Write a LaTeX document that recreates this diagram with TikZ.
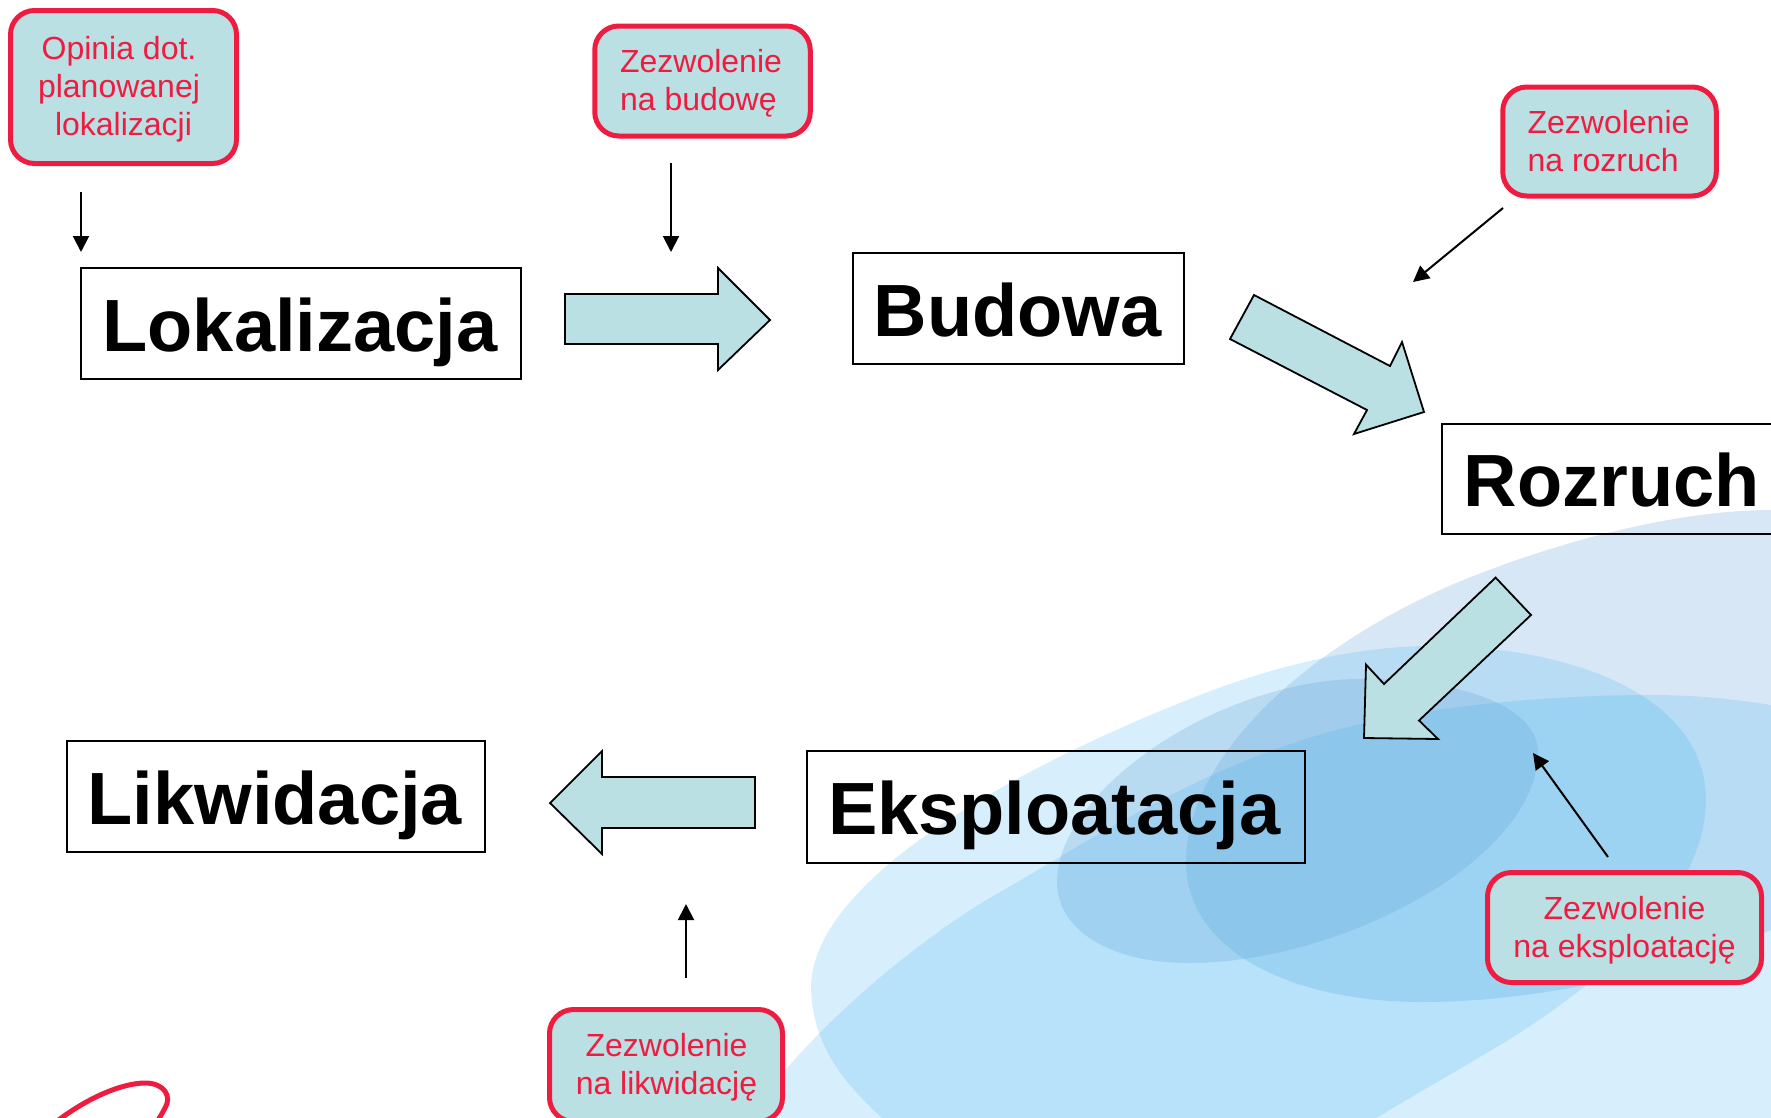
\documentclass[tikz,border=0pt]{standalone}
\usepackage{fontspec}
\setmainfont{Liberation Sans}
\usetikzlibrary{arrows.meta}
\definecolor{redln}{HTML}{EE1C40}
\definecolor{tealf}{HTML}{BBE0E3}
\definecolor{blobblue}{RGB}{55,175,238}
\definecolor{blobgrey}{RGB}{95,160,215}
\tikzset{
  x=1pt,y=-1pt,
  phasebox/.style={draw=black,line width=2pt,inner sep=0pt,text height=60pt,text depth=5pt,align=center,font=\fontsize{74}{80}\selectfont\bfseries},
  permit/.style={draw=redln,fill=tealf,line width=5pt,rounded corners=24pt,inner sep=0pt},
  permittext/.style={inner sep=0pt,text=redln,font=\fontsize{32}{38}\selectfont},
  blockarrow/.style={draw=black,fill=tealf,line width=1.8pt,line join=miter},
  thinarrow/.style={draw=black,line width=2pt,-{Triangle[length=16pt,width=16pt]}},
  blobb/.style={fill=blobblue,fill opacity=.2,draw=none},
  blobg/.style={fill=blobgrey,fill opacity=.25,draw=none},
}
\begin{document}
\begin{tikzpicture}
\useasboundingbox (0,0) rectangle (1771,1117);
\begin{scope}
\clip (0,0) rectangle (1771,1117);
% background blobs
\fill[blobg] (1186,862) .. controls (1186,760) and (1300,650) .. (1456,583) .. controls (1560,540) and (1680,510) .. (1771,510) -- (2000,510) -- (2000,900) -- (1771,930) .. controls (1700,960) and (1560,1002) .. (1422,1002) .. controls (1290,1002) and (1186,950) .. (1186,862) -- cycle;
\fill[blobb] (811,985) .. controls (815,880) and (1010,769) .. (1200,695) .. controls (1290,660) and (1370,646) .. (1430,646) .. controls (1580,646) and (1706,700) .. (1706,800) .. controls (1706,900) and (1590,990) .. (1500,1045) .. controls (1450,1075) and (1400,1103) .. (1340,1140) -- (950,1170) -- (881,1117) .. controls (840,1080) and (811,1040) .. (811,985) -- cycle;
\fill[blobb] (720,1170) .. controls (755,1080) and (890,955) .. (1000,892) .. controls (1100,835) and (1230,745) .. (1400,716) .. controls (1500,698) and (1600,695) .. (1650,695) .. controls (1700,695) and (1740,700) .. (1771,705) -- (1900,720) -- (1900,1300) -- (720,1300) -- cycle;
\fill[blobg] (1057,882) .. controls (1057,790) and (1220,679) .. (1361,679) .. controls (1470,679) and (1538,710) .. (1538,752) .. controls (1538,860) and (1340,963) .. (1189,963) .. controls (1110,963) and (1057,930) .. (1057,882) -- cycle;
% signature stroke
\draw[redln,line width=5pt] (52,1125) .. controls (90,1095) and (125,1083) .. (145,1083) .. controls (165,1083) and (172,1097) .. (165,1108) .. controls (162,1114) and (158,1120) .. (155,1125);
% block arrows
\draw[blockarrow] (565,294)--(718,294)--(718,268)--(770,320)--(718,370)--(718,344)--(565,344)--cycle;
\draw[blockarrow] (1254,295)--(1390,366)--(1402,342)--(1424,412)--(1354,434)--(1367,410)--(1230,339)--cycle;
\draw[blockarrow] (1495.6,577.6)--(1531,615)--(1419,720.5)--(1438,739)--(1364,738)--(1366,664.6)--(1384,684)--cycle;
\draw[blockarrow] (755,777)--(602,777)--(602,751)--(550,803)--(602,854)--(602,828)--(755,828)--cycle;
% phase boxes
\node[phasebox,minimum width=440pt,minimum height=111pt] (lok) at (301,323.5) {Lokalizacja\hspace*{2pt}};
\node[phasebox,minimum width=331pt,minimum height=111pt] (bud) at (1018.5,308.5) {Budowa\hspace*{2pt}};
\node[phasebox,minimum width=339.4pt,minimum height=110pt] (roz) at (1611.7,479) {Rozruch};
\node[phasebox,minimum width=498.5pt,minimum height=112pt] (eks) at (1055.75,807) {Eksploatacja\hspace*{3pt}};
\node[phasebox,minimum width=418.5pt,minimum height=111pt] (lik) at (275.75,796.5) {Likwidacja\hspace*{2pt}};
% permit boxes
\node[permit,minimum width=226pt,minimum height=153pt] (p1) at (123.5,87) {};
\node[permittext,align=center] (t1) at (119,89.5) {Opinia dot.\\planowanej\\\hspace*{9pt}lokalizacji};
\node[permit,minimum width=215.5pt,minimum height=110pt] (p2) at (702.5,81) {};
\node[permittext,align=left] (t2) at (701,83) {Zezwolenie\\na budowę};
\node[permit,minimum width=213.5pt,minimum height=109pt] (p3) at (1609.5,141.5) {};
\node[permittext,align=left] (t3) at (1608.5,141.5) {Zezwolenie\\na rozruch};
\node[permit,minimum width=274pt,minimum height=110pt] (p4) at (1624.5,927.5) {};
\node[permittext,align=center] (t4) at (1624.5,930.5) {Zezwolenie\\na eksploatację};
\node[permit,minimum width=233pt,minimum height=112pt] (p5) at (666,1065.5) {};
\node[permittext,align=center] (t5) at (666.5,1067) {Zezwolenie\\na likwidację};
% thin arrows
\coordinate (a1s) at (81,192); \coordinate (a1e) at (81,252);
\coordinate (a2s) at (671,163); \coordinate (a2e) at (671,252);
\coordinate (a3s) at (1503,208); \coordinate (a3e) at (1413,282);
\coordinate (a4s) at (1608,857); \coordinate (a4e) at (1533,753);
\coordinate (a5s) at (686,978); \coordinate (a5e) at (686,904);
\draw[thinarrow] (a1s) -- (a1e);
\draw[thinarrow] (a2s) -- (a2e);
\draw[thinarrow] (a3s) -- (a3e);
\draw[thinarrow] (a4s) -- (a4e);
\draw[thinarrow] (a5s) -- (a5e);
\end{scope}
\end{tikzpicture}
\end{document}
